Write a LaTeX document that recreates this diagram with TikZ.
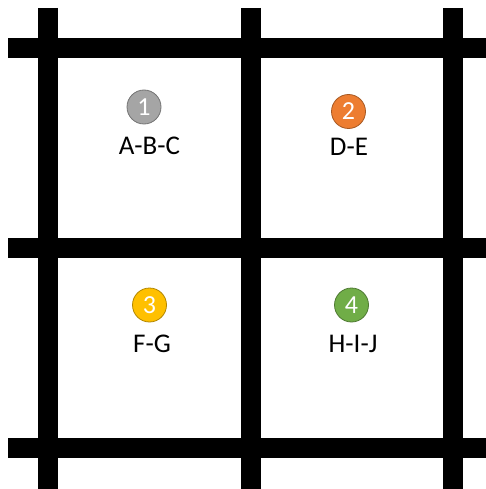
\documentclass[tikz,border=0pt]{standalone}
\usepackage{fontspec}
\setmainfont{Carlito}
\usepackage{xcolor}
\usepackage{tikz}

\definecolor{cellgray}{HTML}{A5A5A5}
\definecolor{cellorange}{HTML}{ED7D31}
\definecolor{cellgold}{HTML}{FFC000}
\definecolor{cellgreen}{HTML}{70AD47}

\begin{document}
\begin{tikzpicture}[x=1pt,y=-1pt,
  bar/.style={line width=20pt},
  badge/.style={circle,fill=#1,draw=#1!70!black,line width=0.8pt,
    inner sep=0pt,minimum size=34pt,text=white,
    font=\fontsize{26}{26}\selectfont},
  cellname/.style={anchor=base,font=\fontsize{27}{32}\selectfont}]
\useasboundingbox (0,0) rectangle (486,489);
% --- grid bars ---
\foreach \y in {48,248,448} \draw[bar] (8,\y) -- (486,\y);
\foreach \x in {48,251,453} \draw[bar] (\x,8) -- (\x,489);

% --- top row ---
\node[badge=cellgray] (b1) at (144,107) {1};
\node[cellname] (abc) at (149.5,154) {A-B-C};
\node[badge=cellorange] (b2) at (348.5,111.5) {2};
\node[cellname] (de) at (349,156) {D-E};

% --- bottom row ---
\node[badge=cellgold] (b3) at (149.5,305) {3};
\node[cellname] (fg) at (152,352) {F-G};
\node[badge=cellgreen] (b4) at (351.5,305) {4};
\node[cellname] (hij) at (353,352) {H-I-J};
\end{tikzpicture}
\end{document}
